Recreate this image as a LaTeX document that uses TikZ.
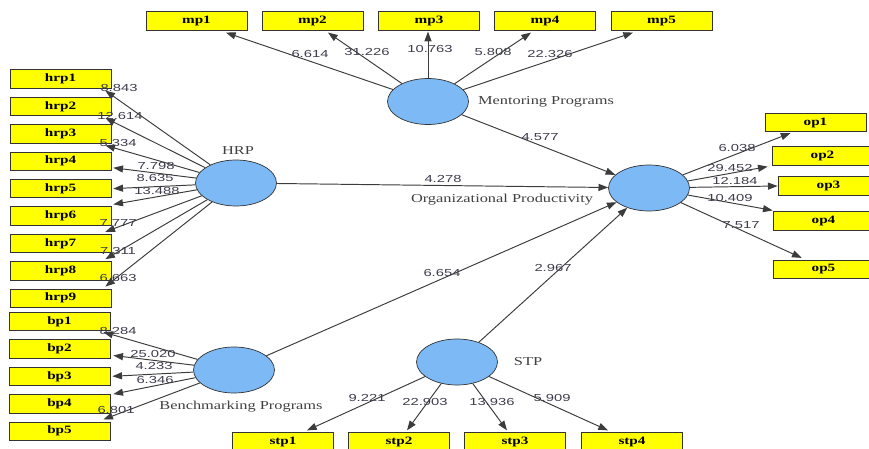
\documentclass[tikz,border=0pt]{standalone}
\usepackage{fontspec}
\setmainfont{Liberation Serif}
\setsansfont{Liberation Sans}
\newfontfamily\valfont[FakeStretch=1.45]{Liberation Sans}
\newfontfamily\namefont[FakeStretch=1.35]{Liberation Serif}
\usetikzlibrary{shapes.geometric,arrows.meta,calc}

\definecolor{boxyellow}{RGB}{255,255,0}
\definecolor{lvblue}{RGB}{125,185,245}
\definecolor{linegray}{RGB}{60,60,60}
\definecolor{numgray}{RGB}{60,60,75}

\begin{document}
\begin{tikzpicture}[x=0.02cm,y=-0.02cm,
	box/.style={draw=black!80, fill=boxyellow, minimum width=2.02cm, minimum height=0.37cm, inner sep=0pt, font=\namefont\fontsize{6.4}{8}\selectfont\bfseries},
	lv/.style={ellipse, draw=black!80, fill=lvblue, minimum width=1.62cm, minimum height=0.92cm, inner sep=0pt},
	link/.style={draw=linegray, line width=0.55pt, -{Triangle[length=5.5pt,width=4pt]}},
	val/.style={font=\valfont\fontsize{5.8}{7}\selectfont, text=numgray, inner sep=0pt},
	lvname/.style={font=\namefont\fontsize{6.9}{8}\selectfont, text=black!75, inner sep=0pt}]

			\clip (0,0) rectangle (869,449);

			\node[lv] (HRP) at (236,183) {};
			\node[lv] (MP) at (428,101.5) {};
			\node[lv] (OP) at (649,188) {};
			\node[lv] (BP) at (234,370) {};
			\node[lv] (STP) at (457,362) {};

			\node[lvname] (HRPname) at (238,151) {HRP};
			\node[lvname] (MPname) at (546,102) {Mentoring Programs};
			\node[lvname] (OPname) at (502,200) {Organizational Productivity};
			\node[lvname] (BPname) at (241,407) {Benchmarking Programs};
			\node[lvname] (STPname) at (528,362) {STP};

			\node[box] (mp1) at (196.5,21) {mp1};
			\node[box] (mp2) at (312.5,21) {mp2};
			\node[box] (mp3) at (429,21) {mp3};
			\node[box] (mp4) at (545,21) {mp4};
			\node[box] (mp5) at (661.5,21) {mp5};

			\node[box] (hrp1) at (60.5,79) {hrp1};
			\node[box] (hrp2) at (60.5,106.4) {hrp2};
			\node[box] (hrp3) at (60.5,133.8) {hrp3};
			\node[box] (hrp4) at (60.5,161.2) {hrp4};
			\node[box] (hrp5) at (60.5,188.6) {hrp5};
			\node[box] (hrp6) at (60.5,216) {hrp6};
			\node[box] (hrp7) at (60.5,243.4) {hrp7};
			\node[box] (hrp8) at (60.5,270.8) {hrp8};
			\node[box] (hrp9) at (60.5,298.2) {hrp9};

			\node[box] (bp1) at (59.5,321.5) {bp1};
			\node[box] (bp2) at (59.5,348.9) {bp2};
			\node[box] (bp3) at (59.5,376.3) {bp3};
			\node[box] (bp4) at (59.5,403.7) {bp4};
			\node[box] (bp5) at (59.5,431.1) {bp5};

			\node[box] (op1) at (815.5,122.5) {op1};
			\node[box] (op2) at (822.5,156) {op2};
			\node[box] (op3) at (828.5,186) {op3};
			\node[box] (op4) at (823.5,221) {op4};
			\node[box] (op5) at (823.5,269.5) {op5};

			\node[box] (stp1) at (283,442) {stp1};
			\node[box] (stp2) at (399,442) {stp2};
			\node[box] (stp3) at (515,442) {stp3};
			\node[box] (stp4) at (632,442) {stp4};

			% structural paths
			\draw[link] (HRP) -- (OP);
			\draw[link] (MP) -- (OP);
			\draw[link] (BP) -- (OP);
			\draw[link] (STP) -- (OP);

			% mentoring programs
			\draw[link] (MP) -- ($(mp1.south)+(29.5,2)$);
			\draw[link] (MP) -- ($(mp2.south)+(15.5,2)$);
			\draw[link] (MP) -- ($(mp3.south)+(-1,1)$);
			\draw[link] (MP) -- ($(mp4.south)+(-14,2)$);
			\draw[link] (MP) -- ($(mp5.south)+(-28.5,2)$);

			% HRP
			\draw[link] (HRP) -- ($(hrp1.south east)+(-6,2)$);
			\draw[link] (HRP) -- ($(hrp2.south east)+(-6,2)$);
			\draw[link] (HRP) -- ($(hrp3.south east)+(-6,2)$);
			\draw[link] (HRP) -- ($(hrp4.south east)+(2,-3)$);
			\draw[link] (HRP) -- ($(hrp5.east)+(2,0)$);
			\draw[link] (HRP) -- ($(hrp6.north east)+(2,-2)$);
			\draw[link] (HRP) -- ($(hrp7.north east)+(-6,-2)$);
			\draw[link] (HRP) -- ($(hrp8.north east)+(-6,-2)$);
			\draw[link] (HRP) -- ($(hrp9.north east)+(-6,-2)$);

			% benchmarking programs
			\draw[link] (BP) -- ($(bp1.south east)+(-7,1)$);
			\draw[link] (BP) -- ($(bp2.south east)+(3,-3)$);
			\draw[link] (BP) -- ($(bp3.east)+(2,0)$);
			\draw[link] (BP) -- ($(bp4.north east)+(3,0)$);
			\draw[link] (BP) -- ($(bp5.north east)+(-7,-2)$);

			% organizational productivity
			\draw[link] (OP) -- ($(op1.south)+(-25,1)$);
			\draw[link] (OP) -- ($(op2.south west)+(-4,1)$);
			\draw[link] (OP) -- (op3.west);
			\draw[link] (OP) -- ($(op4.north west)+(0,-1)$);
			\draw[link] (OP) -- ($(op5.north west)+(29,-2)$);

			% STP
			\draw[link] (STP) -- ($(stp1.north)+(24,-2)$);
			\draw[link] (STP) -- ($(stp2.north)+(8,-2)$);
			\draw[link] (STP) -- ($(stp3.north)+(-8,-2)$);
			\draw[link] (STP) -- ($(stp4.north)+(-24,-2)$);

			% path values
			\node[val] (vHRPOP) at (443,179) {4.278};
			\node[val] (vMPOP) at (540,137) {4.577};
			\node[val] (vBPOP) at (442,273) {6.654};
			\node[val] (vSTPOP) at (553,268) {2.967};

			\node[val] (vmp1) at (310,54) {6.614};
			\node[val] (vmp2) at (367,52) {31.226};
			\node[val] (vmp3) at (430,49) {10.763};
			\node[val] (vmp4) at (493,52) {5.808};
			\node[val] (vmp5) at (550,54) {22.326};

			\node[val] (vhrp1) at (119,88) {8.843};
			\node[val] (vhrp2) at (120,116) {12.614};
			\node[val] (vhrp3) at (118,143) {5.334};
			\node[val] (vhrp4) at (156,166) {7.798};
			\node[val] (vhrp5) at (155,178) {8.635};
			\node[val] (vhrp6) at (157,191) {13.488};
			\node[val] (vhrp7) at (118,223) {7.777};
			\node[val] (vhrp8) at (118,251) {7.311};
			\node[val] (vhrp9) at (118,278) {6.663};

			\node[val] (vbp1) at (118,331) {8.284};
			\node[val] (vbp2) at (153,354) {25.020};
			\node[val] (vbp3) at (154,366) {4.233};
			\node[val] (vbp4) at (155,380) {6.346};
			\node[val] (vbp5) at (116,410) {6.801};

			\node[val] (vop1) at (737,148) {6.038};
			\node[val] (vop2) at (730,168) {29.452};
			\node[val] (vop3) at (735,181) {12.184};
			\node[val] (vop4) at (730,198) {10.409};
			\node[val] (vop5) at (741,225) {7.517};

			\node[val] (vstp1) at (367,398) {9.221};
			\node[val] (vstp2) at (425,402) {22.903};
			\node[val] (vstp3) at (492,402) {13.936};
			\node[val] (vstp4) at (552,398) {5.909};
		\end{tikzpicture}
\end{document}
